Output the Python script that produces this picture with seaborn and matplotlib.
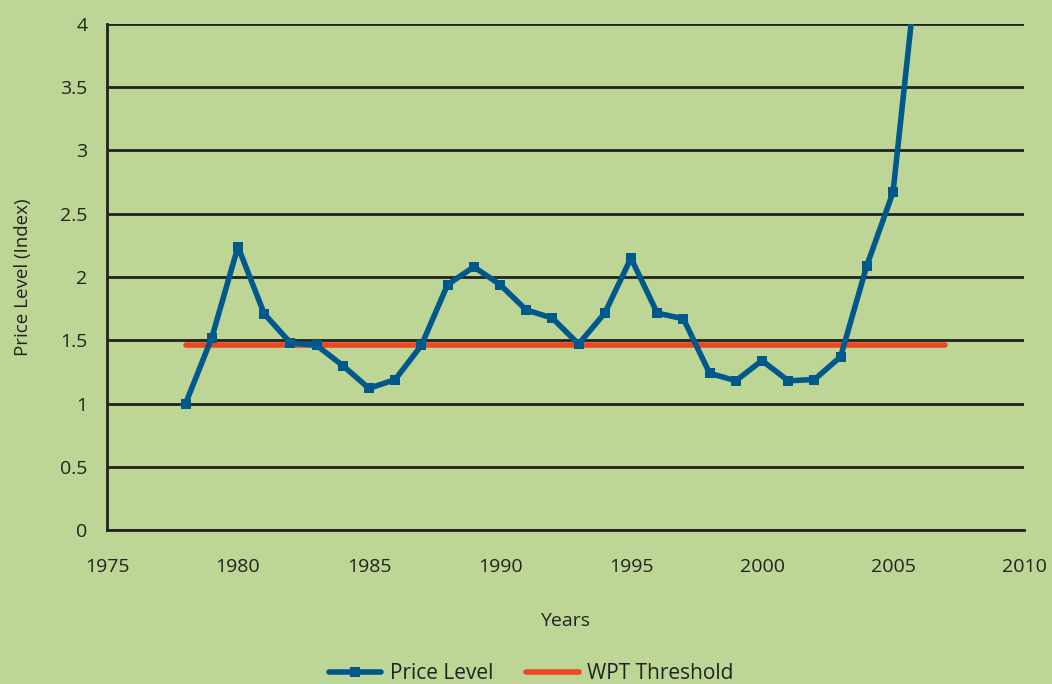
import numpy as np
import pandas as pd
import matplotlib
matplotlib.use("Agg")
import matplotlib.pyplot as plt
import seaborn as sns
from matplotlib.ticker import FuncFormatter

# data
years = list(range(1978, 2007))
price_level = [1.00, 1.52, 2.24, 1.71, 1.48, 1.46, 1.30, 1.12, 1.19, 1.46,
               1.94, 2.08, 1.94, 1.74, 1.675, 1.47, 1.715, 2.15, 1.715, 1.67,
               1.24, 1.18, 1.34, 1.18, 1.19, 1.37, 2.09, 2.67, 4.6]
threshold_years = [1978, 2007]
threshold_values = [1.46, 1.46]

BG = "#bdd595"
BLUE = "#00598c"
RED = "#ee4523"
INK = "#222222"

sns.set_theme(style="white")
plt.rcParams["font.family"] = ["Open Sans", "DejaVu Sans"]

fig = plt.figure(figsize=(10.52, 6.84), dpi=100, facecolor=BG)
ax = fig.add_axes([0.1017, 0.225, 0.8717, 0.740])
ax.set_facecolor(BG)

df = pd.DataFrame({"year": years, "price": price_level})
thr = pd.DataFrame({"year": threshold_years, "value": threshold_values})

sns.lineplot(data=thr, x="year", y="value", ax=ax, color=RED, linewidth=4,
             label="WPT Threshold", zorder=3, solid_capstyle="round")
sns.lineplot(data=df, x="year", y="price", ax=ax, color=BLUE, linewidth=4,
             marker="s", markersize=7.5, markeredgewidth=0, label="Price Level", zorder=4)

ax.set_xlim(1975, 2010)
ax.set_ylim(0, 4)
ax.set_xticks(range(1975, 2011, 5))
ax.set_yticks(np.arange(0, 4.01, 0.5))
ax.yaxis.set_major_formatter(FuncFormatter(lambda v, p: f"{v:g}"))
ax.grid(axis="y", color=INK, linewidth=2, zorder=1)
ax.set_axisbelow(True)
for s in ["top", "right"]:
    ax.spines[s].set_visible(False)
for s in ["left", "bottom"]:
    ax.spines[s].set_color(INK)
    ax.spines[s].set_linewidth(2)
ax.tick_params(axis="both", length=0, labelsize=14, colors=INK)
ax.tick_params(axis="x", pad=20)
ax.tick_params(axis="y", pad=14)
ax.set_xlabel("Years", fontsize=14, color=INK, labelpad=26)
ax.set_ylabel("Price Level (Index)", fontsize=13.5, color=INK, labelpad=20)

h, l = ax.get_legend_handles_labels()
ax.legend(h[::-1], l[::-1], loc="center", bbox_to_anchor=(0.505, 0.015),
          bbox_transform=fig.transFigure, ncol=2, frameon=False, fontsize=15,
          handlelength=2.5, handletextpad=0.4, columnspacing=1.6, labelcolor=INK)

fig.savefig("out.png", dpi=100, facecolor=BG)
